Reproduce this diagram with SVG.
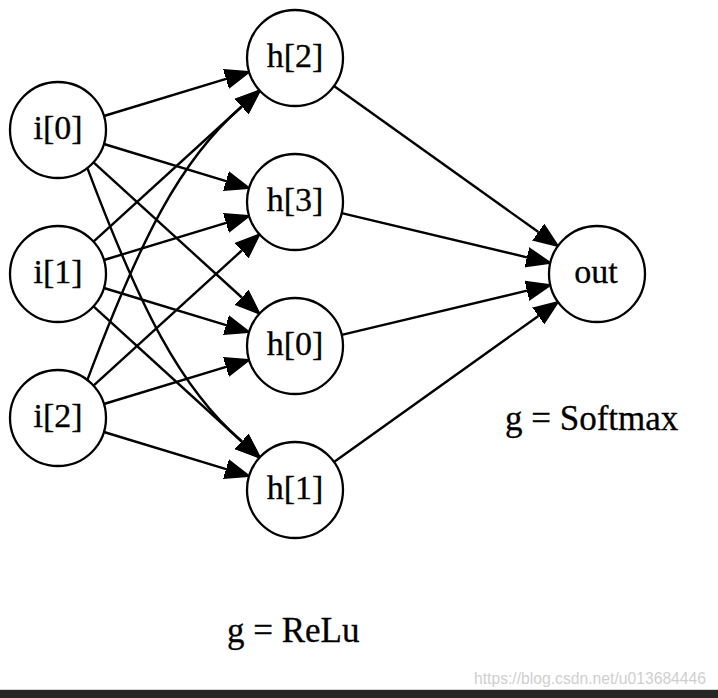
<svg xmlns="http://www.w3.org/2000/svg" width="718" height="698" viewBox="0 0 718 698">
<style>
.n circle{fill:#fff;stroke:#000;stroke-width:2.3}
.n text{font-family:"Liberation Serif","Times New Roman",serif;font-size:34px;text-anchor:middle;fill:#000;stroke:#000;stroke-width:0.3}
.e path{fill:none;stroke:#000;stroke-width:2.4;marker-end:url(#ah)}
.lbl{font-family:"Liberation Serif","Times New Roman",serif;font-size:35px;fill:#000;stroke:#000;stroke-width:0.3}
.wm{font-family:"Liberation Sans",Arial,sans-serif;font-size:15.7px;fill:#cfcfcf}
</style>
<defs>
<marker id="ah" markerUnits="userSpaceOnUse" viewBox="0 -12 27 24" refX="0" refY="0" markerWidth="27" markerHeight="24" orient="auto">
<path d="M0,-9.5 L24.5,0 L0,9.5 z" fill="#000" stroke="#000" stroke-width="1.5"/>
</marker>
</defs>
<rect width="718" height="698" fill="#fff"/>
<g id="connectors" class="e">
<path d="M103.9,116 L226.1,78.9"/>
<path d="M103.9,144 L226.1,181.1"/>
<path d="M93.5,162.3 L241.8,297.5"/>
<path d="M87.3,167.9 C140,308 180,388 241.8,441.5"/>
<path d="M93.5,241.7 L241.8,106.5"/>
<path d="M103.9,260 L226.1,222.9"/>
<path d="M103.9,288 L226.1,325.1"/>
<path d="M93.5,306.3 L241.8,441.5"/>
<path d="M87.3,380.1 C140,240 180,160 241.8,106.5"/>
<path d="M93.5,385.7 L241.8,250.5"/>
<path d="M103.9,404 L226.1,366.9"/>
<path d="M103.9,432 L226.1,469.1"/>
<path d="M334,85.9 L538.4,232.1"/>
<path d="M341.7,213.1 L527,257.3"/>
<path d="M341.7,334.9 L527,290.7"/>
<path d="M334,462.1 L538.4,315.9"/>
</g>
<g id="i0" class="n"><circle cx="58" cy="130" r="48"/><text x="58" y="139">i[0]</text></g>
<g id="i1" class="n"><circle cx="58" cy="274" r="48"/><text x="58" y="283">i[1]</text></g>
<g id="i2" class="n"><circle cx="58" cy="418" r="48"/><text x="58" y="427">i[2]</text></g>
<g id="h2" class="n"><circle cx="295" cy="58" r="48"/><text x="295" y="67">h[2]</text></g>
<g id="h3" class="n"><circle cx="295" cy="202" r="48"/><text x="295" y="211">h[3]</text></g>
<g id="h0" class="n"><circle cx="295" cy="346" r="48"/><text x="295" y="355">h[0]</text></g>
<g id="h1" class="n"><circle cx="295" cy="490" r="48"/><text x="295" y="499">h[1]</text></g>
<g id="out" class="n"><circle cx="597" cy="274" r="48"/><text x="596" y="283">out</text></g>
<text class="lbl" x="505" y="430">g = Softmax</text>
<text class="lbl" x="227" y="642">g = ReLu</text>
<text class="wm" x="474" y="684">https://blog.csdn.net/u013684446</text>
<rect x="0" y="689" width="718" height="1" fill="#d4d4d4"/>
<rect x="0" y="690" width="718" height="8" fill="#262626"/>
</svg>
